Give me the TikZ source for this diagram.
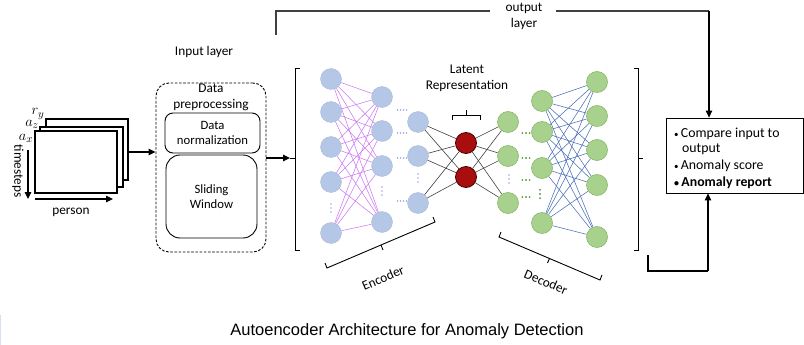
\documentclass[tikz,border=0pt]{standalone}
\usepackage{fontspec}
\setmainfont{Carlito}
\newfontfamily\capfont{Liberation Sans}
\usetikzlibrary{arrows.meta,calc}

\definecolor{encblue}{HTML}{B4C7E7}
\definecolor{decgreen}{HTML}{A9D18E}
\definecolor{decgreenline}{HTML}{86B866}
\definecolor{latred}{HTML}{A80E0E}
\definecolor{latredline}{HTML}{4A0000}
\definecolor{pinkedge}{HTML}{CC7AF0}
\definecolor{blueedge}{HTML}{4A6FB5}
\definecolor{bluedot}{HTML}{8FAADC}
\definecolor{greendot}{HTML}{5E9E3A}
\definecolor{grayline}{HTML}{404040}

\tikzset{
  lbl/.style={font=\fontsize{13.3}{15.5}\selectfont, align=center, inner sep=0pt},
  boxlbl/.style={font=\fontsize{13.8}{16}\selectfont, align=left, inner sep=0pt},
  smalllbl/.style={font=\fontsize{12.7}{15}\selectfont, align=center, inner sep=0pt},
  page/.style={draw, line width=1.1pt, fill=white, rectangle, inner sep=0pt},
  neuron/.style={circle, minimum size=21pt, inner sep=0pt},
  encnode/.style={neuron, fill=encblue, draw=encblue!90!black, line width=0.3pt},
  decnode/.style={neuron, fill=decgreen, draw=decgreenline, line width=0.6pt},
  latnode/.style={neuron, fill=latred, draw=latredline, line width=0.8pt},
  pinkwire/.style={pinkedge, line width=0.55pt},
  bluewire/.style={blueedge, line width=0.55pt},
  graywire/.style={black!75, line width=0.6pt},
  bracketline/.style={black, line width=0.9pt},
  arr/.style={line width=1.2pt, -{Triangle[length=7pt,width=6.5pt]}},
  bluehdots/.pic={\foreach \k in {-4.5,-1.5,1.5,4.5} \fill[bluedot] (\k,0) circle (0.8);},
  bluevdots/.pic={\foreach \k in {-4,0,4} \fill[bluedot] (0,\k) circle (0.8);},
  greenhdots/.pic={\foreach \k in {-3.6,0,3.6} \fill[greendot] (\k,0) circle (1.05);},
  greenvdots/.pic={\foreach \k in {-4.2,0,4.2} \fill[greendot] (0,\k) circle (1.05);}
}

\begin{document}
\begin{tikzpicture}[x=1pt,y=-1pt]
\useasboundingbox (0,0) rectangle (804,345);

% thin strip on the lower left edge
\fill[encblue!55] (0,315) rectangle (1,345);

% ---------- stacked input sheets ----------
\node[page, minimum width=82pt, minimum height=61pt] (pgBack) at (87,149.5) {};
\node[page, minimum width=83pt, minimum height=60pt] (pgMid) at (81.5,157) {};
\node[page, minimum width=82pt, minimum height=62pt] (pgFront) at (76,162) {};
\node[font=\fontsize{15}{16}\selectfont, inner sep=0pt] (ry) at (38,114) {$r_y$};
\node[font=\fontsize{15}{16}\selectfont, inner sep=0pt] (az) at (32,124) {$a_z$};
\node[font=\fontsize{15}{16}\selectfont, inner sep=0pt] (ax) at (26,138) {$a_x$};
\node[lbl, rotate=-90] (ts) at (18,171) {timesteps};
\coordinate (tsA) at (28,150);
\coordinate (tsB) at (28,199);
\draw[arr] (tsA) -- (tsB);
\coordinate (psA) at (35,199);
\coordinate (psB) at (113,199);
\draw[arr] (psA) -- (psB);
\node[lbl] (person) at (71,212) {person};

% ---------- input layer ----------
\node[lbl] (inlabel) at (204,52) {Input layer};
\node[draw, dashed, dash pattern=on 2.6pt off 1.6pt, line width=0.9pt, rounded corners=13pt,
      minimum width=110pt, minimum height=169pt] (inbox) at (211,167.5) {};
\node[lbl] (prep) at (211,97.5) {Data\\preprocessing};
\node[draw, line width=0.9pt, rounded corners=8pt, minimum width=95pt, minimum height=40pt,
      smalllbl] (norm) at (212.5,133) {Data\\normalization};
\node[draw, line width=0.9pt, rounded corners=14pt, minimum width=91pt, minimum height=83pt,
      smalllbl] (slide) at (211.5,196.5) {Sliding\\Window};
\draw[arr] (pgBack.east |- 0,152) -- (inbox.west |- 0,152);

% ---------- brackets around the network ----------
\coordinate (brL) at (290,158);
\draw[bracketline] (300,68) -- (295,68) -- (295,250) -- (300,250);
\draw[bracketline] (295,158) -- (brL);
\draw[arr] (inbox.east |- brL) -- (brL);
\coordinate (brR) at (643,158);
\draw[bracketline] (634,68) -- (638,68) -- (638,250) -- (634,250);
\draw[bracketline] (638,158) -- (brR);

% ---------- neurons ----------
\foreach \y [count=\i] in {79,112,147,182,233} \node[encnode] (e1\i) at (331,\y) {};
\foreach \y [count=\i] in {97,131,166,222} \node[encnode] (e2\i) at (382,\y) {};
\foreach \y [count=\i] in {122,156,203} \node[encnode] (e3\i) at (418,\y) {};
\foreach \y [count=\i] in {143,177} \node[latnode] (lt\i) at (466,\y) {};
\foreach \y [count=\i] in {122,156,203} \node[decnode] (d1\i) at (508,\y) {};
\foreach \y [count=\i] in {101,132,168,223} \node[decnode] (d2\i) at (542,\y) {};
\foreach \y [count=\i] in {82,116,150,185,237} \node[decnode] (d3\i) at (597,\y) {};

% ---------- connections ----------
\foreach \i in {1,...,5} \foreach \j in {1,...,4} \draw[pinkwire] (e1\i) -- (e2\j);
\foreach \i in {1,...,3} \foreach \j in {1,2} \draw[graywire] (e3\i) -- (lt\j);
\foreach \i in {1,2} \foreach \j in {1,...,3} \draw[graywire] (lt\i) -- (d1\j);
\foreach \i in {1,...,4} \foreach \j in {1,...,5} \draw[bluewire] (d2\i) -- (d3\j);

% ---------- ellipsis dots ----------
\pic at (331,208) {bluevdots};
\pic at (382,191) {bluevdots};
\pic at (418,178) {bluevdots};
\pic at (509,179) {bluevdots};
\foreach \y in {110,133,158,201} \pic at (402,\y) {bluehdots};
\foreach \y in {133,158,180,197} \pic at (526,\y) {greenhdots};
\pic at (540,194) {greenvdots};

% ---------- latent representation ----------
\node[lbl] (latlabel) at (467,78.5) {Latent\\Representation};
\draw[bracketline] (452,120) -- (452,115) -- (480,115) -- (480,120);
\draw[bracketline] (466,115) -- (466,110);

% ---------- encoder / decoder braces ----------
\draw[bracketline] (325,263) -- (327,268) -- (435,222) -- (433,217);
\draw[bracketline] (381,245) -- (383,250);
\node[lbl, rotate=23] (enc) at (383,278) {Encoder};
\draw[bracketline] (501,232) -- (499,237) -- (600,280) -- (602,275);
\draw[bracketline] (549.5,258.5) -- (547.5,263);
\node[lbl, rotate=-23] (dec) at (546,282) {Decoder};

% ---------- anomaly evaluation box ----------
\node[draw, line width=0.8pt, minimum width=137pt, minimum height=75pt, inner sep=0pt] (out) at (734.5,155.5) {};
\node[boxlbl, anchor=west] (o1) at (674,133.5) {{\fontsize{9}{10}\selectfont\textbullet}\,Compare input to};
\node[boxlbl, anchor=west] (o2) at (682,149.5) {output};
\node[boxlbl, anchor=west] (o3) at (674,166) {{\fontsize{9}{10}\selectfont\textbullet}\,Anomaly score};
\node[boxlbl, anchor=west] (o4) at (674,183) {\textbf{{\fontsize{10}{10}\selectfont\textbullet}\,Anomaly report}};

% ---------- output-layer feedback line ----------
\node[lbl] (outlayer) at (524,16.5) {output\\layer};
\coordinate (fbL) at (276,35);
\coordinate (fbM1) at (490,11);
\coordinate (fbM2) at (556,11);
\coordinate (fbR) at (709,11);
\draw[grayline, line width=1.1pt] (fbL) |- (fbM1);
\draw[grayline, line width=1.1pt] (fbM2) -- (fbR);
\draw[arr] (fbR) -- (fbR |- out.north);

% ---------- decoder output to evaluation ----------
\coordinate (bL) at (648,255);
\coordinate (bC) at (708,271);
\draw[line width=1.2pt] (bL) |- (bC);
\draw[arr] (bC) -- (bC |- out.south);

% ---------- caption ----------
\node[font=\capfont\fontsize{16.5}{18}\selectfont, inner sep=0pt] (caption) at (407,331) {Autoencoder Architecture for Anomaly Detection};
\end{tikzpicture}
\end{document}
